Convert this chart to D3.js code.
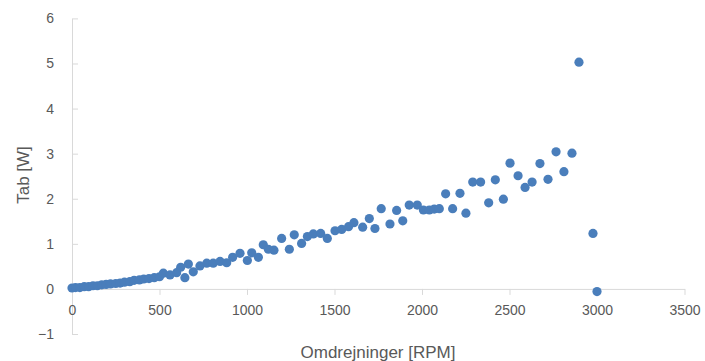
<!DOCTYPE html>
<html>
<head>
<meta charset="utf-8">
<script src="https://cdn.jsdelivr.net/npm/d3@7"></script>
<style>
  html, body { margin: 0; padding: 0; background: #fff; }
  svg { display: block; }
  text { font-family: "Liberation Sans", Arial, sans-serif; fill: #595959; }
</style>
</head>
<body>
<svg id="chart" width="705" height="361"></svg>
<script>
// ---- Data ----
const rpm = [0, 20, 45, 70, 95, 120, 145, 170, 195, 220, 250, 275, 300, 330, 355, 385, 410, 440, 470, 500,
  522, 560, 598, 621, 645, 665, 693, 731, 770, 807, 846, 884, 918, 960, 1002, 1027, 1065, 1093, 1122, 1154,
  1198, 1242, 1270, 1312, 1345, 1379, 1421, 1459, 1503, 1541, 1580, 1611, 1661, 1699, 1731, 1767, 1817, 1855,
  1890, 1927, 1973, 2008, 2042, 2070, 2099, 2135, 2175, 2217, 2251, 2290, 2335, 2381, 2419, 2465, 2503, 2549,
  2589, 2629, 2674, 2720, 2766, 2811, 2857, 2897, 2977, 3000];
const tab = [0.02, 0.03, 0.03, 0.05, 0.05, 0.07, 0.07, 0.09, 0.10, 0.11, 0.12, 0.13, 0.15, 0.16, 0.19, 0.20, 0.22, 0.23, 0.25, 0.27,
  0.35, 0.31, 0.36, 0.48, 0.25, 0.55, 0.38, 0.51, 0.57, 0.57, 0.61, 0.58, 0.70, 0.79, 0.63, 0.80, 0.70, 0.98, 0.88, 0.86,
  1.12, 0.88, 1.20, 1.01, 1.16, 1.22, 1.23, 1.12, 1.29, 1.32, 1.38, 1.47, 1.37, 1.56, 1.34, 1.78, 1.44, 1.74,
  1.51, 1.86, 1.86, 1.75, 1.75, 1.77, 1.78, 2.11, 1.78, 2.12, 1.68, 2.37, 2.37, 1.91, 2.42, 1.99, 2.79, 2.51,
  2.25, 2.37, 2.78, 2.43, 3.04, 2.60, 3.01, 5.03, 1.23, -0.06];
const xTicks = [0, 500, 1000, 1500, 2000, 2500, 3000, 3500];
const yTicks = [-1, 0, 1, 2, 3, 4, 5, 6];
const xTitle = "Omdrejninger [RPM]";
const yTitle = "Tab [W]";

// ---- Layout ----
const svg = d3.select("#chart");
const x = d3.scaleLinear().domain([0, 3500]).range([72, 684.5]);
const y = d3.scaleLinear().domain([-1, 6]).range([334, 18.4]);
const axisColor = "#d9d9d9";

// Y axis (ticks pointing inward, labels on the left)
const yAxis = svg.append("g").attr("transform", `translate(${x(0)},0)`)
  .call(d3.axisLeft(y).tickValues(yTicks).tickSizeInner(-6).tickSizeOuter(0).tickPadding(18)
    .tickFormat(d3.format("d")));
yAxis.select(".domain").attr("stroke", axisColor);
yAxis.selectAll(".tick line").attr("stroke", axisColor);
yAxis.selectAll(".tick text").style("font-size", "14px").attr("fill", "#595959")
  .style("font-family", "'Liberation Sans', Arial, sans-serif");

// X axis crossing at y = 0
const xAxis = svg.append("g").attr("transform", `translate(0,${y(0)})`)
  .call(d3.axisBottom(x).tickValues(xTicks).tickSizeInner(6).tickSizeOuter(0).tickPadding(10)
    .tickFormat(d3.format("d")));
xAxis.select(".domain").attr("stroke", axisColor);
xAxis.selectAll(".tick line").attr("stroke", axisColor);
xAxis.selectAll(".tick text").style("font-size", "14px").attr("fill", "#595959")
  .style("font-family", "'Liberation Sans', Arial, sans-serif");

// Points
const pts = rpm.map((r, i) => ({ r, t: tab[i] }));
svg.append("g").selectAll("circle").data(pts).join("circle")
  .attr("cx", d => x(d.r)).attr("cy", d => y(d.t)).attr("r", 4.6)
  .attr("fill", "#4a7ebb");

// Titles
svg.append("text").attr("x", 378).attr("y", 358).attr("text-anchor", "middle")
  .style("font-size", "17px").text(xTitle);
svg.append("text").attr("transform", "translate(29,175) rotate(-90)").attr("text-anchor", "middle")
  .style("font-size", "17px").text(yTitle);
</script>
</body>
</html>
